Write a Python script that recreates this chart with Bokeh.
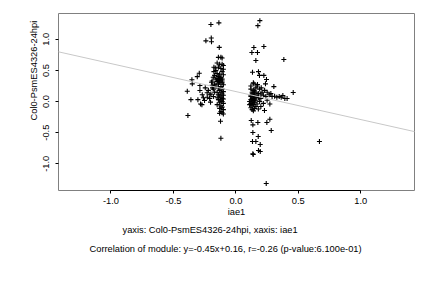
from bokeh.plotting import figure
from bokeh.models import Range1d, FixedTicker, Slope, Title, NumeralTickFormatter
from bokeh.embed import file_html
from bokeh.resources import INLINE

# regression from the caption
slope = -0.45
intercept = 0.16

x_ticks = [-1.0, -0.5, 0.0, 0.5, 1.0]
y_ticks = [-1.0, -0.5, 0.0, 0.5, 1.0]

# left scattered group
x_left = [-0.389, -0.384, -0.36, -0.352, -0.349, -0.309, -0.293, -0.288, -0.288, -0.304,
          -0.283, -0.272, -0.269, -0.251, -0.245, -0.24, -0.2, -0.197, -0.195, -0.229,
          -0.208, -0.203, -0.195, -0.187, -0.181, -0.176, -0.176, -0.136, -0.133, -0.123,
          -0.12, -0.22, -0.2, -0.19, -0.18, -0.17, -0.21, -0.19, -0.17, -0.16,
          -0.18, -0.23, -0.26, -0.17, -0.165]
y_left = [0.166, -0.225, 0.03, 0.35, 0.284, 0.40, 0.455, 0.257, 0.177, 0.03,
          -0.04, -0.05, 0.11, 0.016, 0.22, 0.975, 1.238, 1.02, 0.96, 0.07,
          0.11, -0.01, 0.31, 0.22, 0.39, 0.48, 0.55, 1.265, 0.87, -0.316,
          -0.59, 0.18, 0.12, 0.26, 0.08, 0.15, 0.05, 0.33, 0.42, 0.36,
          0.2, 0.14, 0.06, 0.28, 0.54]

# left dense column
x_col = [-0.14, -0.12, -0.11, -0.15, -0.13, -0.11, -0.10, -0.14, -0.12, -0.10,
         -0.16, -0.11, -0.15, -0.13, -0.10, -0.14, -0.12, -0.15, -0.13, -0.11,
         -0.14, -0.12, -0.15, -0.13, -0.11, -0.14, -0.10, -0.16, -0.12, -0.14,
         -0.11, -0.13, -0.10, -0.15, -0.12, -0.11, -0.14, -0.10, -0.13, -0.12,
         -0.15, -0.11, -0.10, -0.14, -0.12, -0.11, -0.13, -0.10, -0.15, -0.12,
         -0.11, -0.13, -0.10, -0.12, -0.11, -0.13, -0.10, -0.14, -0.12, -0.11]
y_col = [0.71, 0.71, 0.70, 0.62, 0.60, 0.60, 0.58, 0.55, 0.53, 0.52,
         0.50, 0.48, 0.45, 0.44, 0.43, 0.40, 0.38, 0.37, 0.36, 0.36,
         0.34, 0.33, 0.32, 0.31, 0.30, 0.28, 0.27, 0.25, 0.24, 0.22,
         0.20, 0.18, 0.16, 0.15, 0.14, 0.12, 0.11, 0.10, 0.09, 0.07,
         0.06, 0.05, 0.04, 0.03, 0.02, 0.00, -0.02, -0.03, -0.05, -0.07,
         -0.09, -0.11, -0.13, -0.16, -0.18, -0.19, -0.20, 0.35, 0.39, 0.33]

# right scattered group
x_right = [0.192, 0.176, 0.224, 0.144, 0.128, 0.173, 0.16, 0.133, 0.181, 0.189,
           0.224, 0.245, 0.237, 0.144, 0.173, 0.203, 0.304, 0.384, 0.459, 0.272,
           0.229, 0.123, 0.136, 0.176, 0.272, 0.248, 0.283, 0.136, 0.179, 0.133,
           0.16, 0.195, 0.181, 0.195, 0.136, 0.139, 0.243, 0.669, 0.267, 0.29,
           0.31, 0.328, 0.347, 0.363, 0.376, 0.392, 0.41, 0.28, 0.251]
y_right = [1.30, 1.22, 0.884, 0.868, 0.788, 0.788, 0.66, 0.47, 0.48, 0.42,
           0.42, 0.354, 0.284, 0.284, 0.273, 0.22, 0.24, 0.675, 0.145, -0.04,
           -0.145, -0.305, -0.375, -0.338, -0.284, -0.338, -0.466, -0.498, -0.563, -0.643,
           -0.643, -0.691, -0.788, -0.804, -0.841, -0.852, -1.318, -0.643, 0.11, 0.08,
           0.086, 0.07, 0.08, 0.07, 0.097, 0.048, 0.048, 0.13, 0.15]

# right dense blob
x_blob = [0.12, 0.14, 0.16, 0.13, 0.15, 0.17, 0.12, 0.14, 0.18, 0.13,
          0.15, 0.20, 0.12, 0.16, 0.14, 0.19, 0.13, 0.15, 0.12, 0.17,
          0.14, 0.22, 0.13, 0.16, 0.12, 0.15, 0.13, 0.18, 0.14, 0.20,
          0.22, 0.24, 0.21, 0.23, 0.19, 0.17, 0.25, 0.12, 0.14, 0.16,
          0.18, 0.20, 0.13, 0.11, 0.11, 0.12, 0.14, 0.16, 0.15, 0.13]
y_blob = [0.20, 0.18, 0.15, 0.12, 0.10, 0.10, 0.08, 0.07, 0.06, 0.05,
          0.04, 0.05, 0.03, 0.02, 0.01, 0.00, -0.01, -0.02, -0.03, -0.04,
          -0.05, -0.03, -0.07, -0.08, -0.10, -0.11, -0.13, -0.12, -0.15, 0.12,
          0.10, 0.08, 0.15, 0.18, 0.20, 0.25, 0.02, 0.25, 0.30, 0.22,
          0.13, -0.08, 0.15, 0.00, -0.05, 0.10, 0.12, 0.06, 0.17, 0.02]

xs = x_left + x_col + x_right + x_blob
ys = y_left + y_col + y_right + y_blob

FONT = "Liberation Sans"
FS = "9.3px"

p = figure(width=432, height=288, output_backend="svg", toolbar_location=None,
           x_range=Range1d(-1.42, 1.43), y_range=Range1d(-1.43, 1.415),
           min_border_left=58, min_border_right=18, min_border_top=13,
           min_border_bottom=40)
p.frame_width = 356
p.frame_height = 177
p.grid.visible = False
p.outline_line_color = "#808080"
p.outline_line_width = 1

p.add_layout(Slope(gradient=slope, y_intercept=intercept, line_color="#c8c8c8", line_width=1))
p.scatter(xs, ys, marker="cross", size=5, line_color="black", line_width=1.1)

for ax in (p.xaxis[0], p.yaxis[0]):
    ax.major_tick_line_color = "black"
    ax.minor_tick_line_color = None
    ax.major_tick_in = 0
    ax.major_tick_out = 3
    ax.major_label_text_font = FONT
    ax.major_label_text_font_size = FS
    ax.major_label_text_color = "black"
    ax.axis_label_text_font = FONT
    ax.axis_label_text_font_size = FS
    ax.axis_label_text_font_style = "normal"
    ax.axis_label_text_color = "black"
    ax.formatter = NumeralTickFormatter(format="0.0")

p.xaxis.bounds = (-1.0, 1.0)
p.xaxis.axis_line_color = "black"
p.yaxis.axis_line_color = None
p.xaxis.ticker = FixedTicker(ticks=x_ticks)
p.yaxis.ticker = FixedTicker(ticks=y_ticks)
p.yaxis.major_label_orientation = "vertical"
p.xaxis.major_label_standoff = 4
p.yaxis.major_label_standoff = 6
p.xaxis.axis_label = "iae1"
p.xaxis.axis_label_standoff = 0

ytitle = Title(text="Col0-PsmES4326-24hpi", align="left", text_font=FONT,
               text_font_size=FS, text_color="black", text_font_style="normal",
               standoff=4, offset=70)
p.add_layout(ytitle, "left")

t1 = Title(text="yaxis: Col0-PsmES4326-24hpi, xaxis: iae1",
           align="left", text_font=FONT, text_font_size=FS, text_color="black",
           text_font_style="normal", standoff=6, offset=64)
t2 = Title(text="Correlation of module: y=-0.45x+0.16, r=-0.26 (p-value:6.100e-01)",
           align="left", text_font=FONT, text_font_size=FS, text_color="black",
           text_font_style="normal", standoff=8, offset=31)
p.add_layout(t1, "below")
p.add_layout(t2, "below")

open("out.html", "w").write(file_html(p, INLINE))
